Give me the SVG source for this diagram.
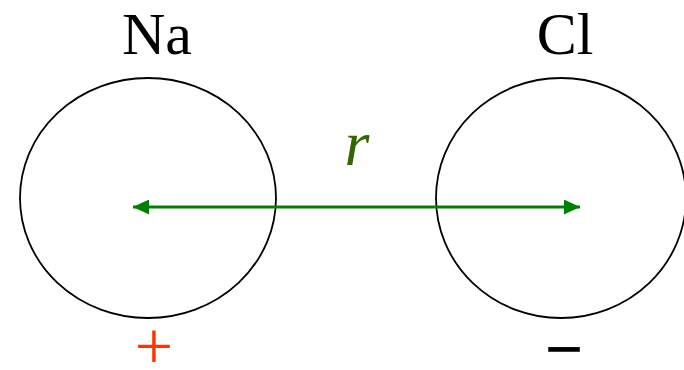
<svg xmlns="http://www.w3.org/2000/svg" width="684" height="370" viewBox="0 0 684 370">
<style>
.atom{fill:none;stroke:#000;stroke-width:1.8}
.serif{font-family:"Liberation Serif","Times New Roman",serif;text-anchor:middle}
.lbl{font-size:60px;fill:#000}
.sign{font-size:68px}
.rad{font-size:64px;font-style:italic;fill:#336600}
</style>
<defs>
<marker id="ah" viewBox="0 0 16 15" refX="16" refY="7.5" markerWidth="16" markerHeight="15" markerUnits="userSpaceOnUse" orient="auto-start-reverse">
<path d="M0,0 L16,7.5 L0,15 Z" fill="#008000"/>
</marker>
</defs>
<rect width="684" height="370" fill="#fff"/>
<g id="na">
<ellipse class="atom" cx="148" cy="198" rx="128" ry="120"/>
<text class="serif lbl" x="157" y="54">Na</text>
<text class="serif sign" x="154" y="369" fill="#ff3300">+</text>
</g>
<g id="cl">
<ellipse class="atom" cx="561" cy="198" rx="125" ry="120"/>
<text class="serif lbl" x="565" y="54">Cl</text>
<text class="serif sign" x="564" y="372" fill="#000" font-weight="bold">−</text>
</g>
<g id="connectors">
<line x1="133" y1="207" x2="580" y2="207" stroke="#008000" stroke-width="3.2" marker-start="url(#ah)" marker-end="url(#ah)"/>
<text class="serif rad" x="357" y="165">r</text>
</g>
</svg>
